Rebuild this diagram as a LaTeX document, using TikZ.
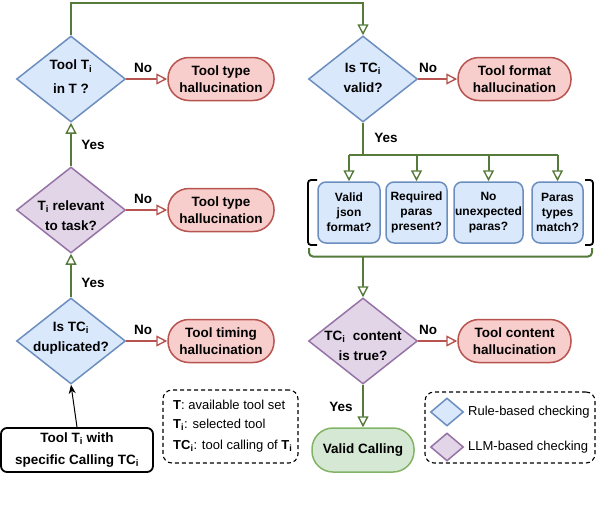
\documentclass[tikz,border=0pt]{standalone}
\usepackage{fontspec}
\setmainfont{Liberation Sans}
\usetikzlibrary{shapes.geometric,arrows.meta}
\definecolor{rulefill}{HTML}{DAE8FC}
\definecolor{rulestroke}{HTML}{6C8EBF}
\definecolor{llmfill}{HTML}{E1D5E7}
\definecolor{llmstroke}{HTML}{9673A6}
\definecolor{badfill}{HTML}{F8CECC}
\definecolor{badstroke}{HTML}{B85450}
\definecolor{okfill}{HTML}{D5E8D4}
\definecolor{okstroke}{HTML}{82B366}
\definecolor{gline}{HTML}{557A3A}
\tikzset{
  rulediam/.style={diamond, draw=rulestroke, fill=rulefill, line width=1.5pt, inner sep=0pt, minimum width=109pt, minimum height=86pt},
  llmdiam/.style={diamond, draw=llmstroke, fill=llmfill, line width=1.5pt, inner sep=0pt, minimum width=109pt, minimum height=86pt},
  legdiam/.style={diamond, line width=1.5pt, inner sep=0pt, minimum width=33pt, minimum height=28pt},
  dtext/.style={align=center, inner sep=0pt, font=\fontsize{13.5}{20}\selectfont\bfseries},
  badbox/.style={rectangle, rounded corners=21pt, draw=badstroke, fill=badfill, line width=1.5pt, minimum width=106pt, minimum height=43pt, align=center, inner sep=0pt, font=\fontsize{13.5}{17}\selectfont\bfseries},
  okbox/.style={rectangle, rounded corners=21pt, draw=okstroke, fill=okfill, line width=1.5pt, minimum width=102pt, minimum height=44pt, align=center, inner sep=0pt, font=\fontsize{13.5}{17}\selectfont\bfseries},
  subbox/.style={rectangle, rounded corners=8pt, draw=rulestroke, fill=rulefill, line width=1.5pt, minimum height=61pt, align=center, inner sep=0pt, font=\fontsize{12}{15}\selectfont\bfseries},
  startbox/.style={rectangle, rounded corners=6pt, draw=black, line width=1.8pt, minimum width=152pt, minimum height=44pt, align=center, inner sep=0pt, font=\fontsize{13.5}{22}\selectfont\bfseries},
  legbox/.style={rectangle, rounded corners=9pt, draw=black, dashed, line width=1.1pt, dash pattern=on 4pt off 3pt},
  lbl/.style={inner sep=0pt, font=\fontsize{13.5}{16}\selectfont\bfseries},
  legtext/.style={inner sep=0pt, anchor=west, font=\fontsize{13}{16}\selectfont},
  gline/.style={draw=gline, line width=2pt},
  rline/.style={draw=badstroke, line width=2pt},
  oarrow/.style={-{Triangle[open, length=11pt, width=11pt, line width=1.4pt, fill=white]}},
}
\newcommand{\sbi}{\textsubscript{i}}
\begin{document}
\begin{tikzpicture}[x=1pt, y=-1pt]
\useasboundingbox (0,0) rectangle (596,506);

% left column
\node[rulediam] (d1) at (71,79) {};
\node[dtext, font=\fontsize{13.5}{24}\selectfont\bfseries] (d1t) at (71,77) {Tool T\sbi\\in T ?};
\node[llmdiam] (d2) at (71,210) {};
\node[dtext] (d2t) at (71,216) {T\sbi{} relevant\\to task?};
\node[rulediam] (d3) at (71,341) {};
\node[dtext] (d3t) at (71,338) {Is TC\sbi\\duplicated?};

\node[badbox] (r1) at (221,79) {Tool type\\hallucination};
\node[badbox] (r2) at (221,210) {Tool type\\hallucination};
\node[badbox] (r3) at (221,341) {Tool timing\\hallucination};

\node[startbox] (s) at (77,450) {Tool T\sbi{} with\\specific Calling TC\sbi};

% right column
\node[rulediam] (d4) at (363,79) {};
\node[dtext] (d4t) at (363,78) {Is TC\sbi\\valid?};
\node[badbox, minimum width=113pt] (r4) at (514.5,79) {Tool format\\hallucination};

\node[subbox, minimum width=62pt] (b1) at (349,212.5) {Valid\\json\\format?};
\node[subbox, minimum width=61pt] (b2) at (416.5,212.5) {Required\\paras\\present?};
\node[subbox, minimum width=69pt] (b3) at (488.5,212.5) {No\\unexpected\\paras?};
\node[subbox, minimum width=51pt] (b4) at (557.5,212.5) {Paras\\types\\match?};

\node[llmdiam] (d5) at (363,341) {};
\node[dtext] (d5t) at (363,346) {TC\sbi{}\ \ content\\is true?};
\node[badbox, minimum width=113pt] (r5) at (514.5,341) {Tool content\\hallucination};

\node[okbox] (v) at (363,450) {Valid Calling};

% legends
\node[legbox, minimum width=135pt, minimum height=73pt] (leg1) at (230.5,426.5) {};
\node[legtext] (l1) at (173,405) {\textbf{T}: available tool set};
\node[legtext] (l2) at (173,425) {\textbf{T\sbi}: selected tool};
\node[legtext] (l3) at (173,446) {\textbf{TC\sbi}: tool calling of \textbf{T\sbi}};

\node[legbox, minimum width=170pt, minimum height=71pt] (leg2) at (510,427.5) {};
\node[legdiam, draw=rulestroke, fill=rulefill] (ld1) at (447,412) {};
\node[legdiam, draw=llmstroke, fill=llmfill] (ld2) at (447,447) {};
\node[legtext] (lt1) at (468,412) {Rule-based checking};
\node[legtext] (lt2) at (468,447) {LLM-based checking};

% brackets
\draw[black, line width=1.8pt, rounded corners=3pt] (317,180) -- (308,180) -- (308,245) -- (317,245);
\draw[black, line width=1.8pt, rounded corners=3pt] (585,180) -- (593,180) -- (593,245) -- (585,245);
\coordinate (brc) at (363,256.5);
\draw[gline, rounded corners=4pt] (309,248) -- (309,256.5) -- (592,256.5) -- (592,248);

% connectors
\coordinate (topy) at (0,3);
\draw[gline, oarrow] (d1.north) -- (d1.north |- topy) -| (d4.north);
\draw[gline, oarrow] (d2.north) -- (d1.south);
\draw[gline, oarrow] (d3.north) -- (d2.south);
\draw[black, line width=1pt, -{Stealth[length=9pt, width=7pt]}] (s.north) -- (d3.south);

\draw[rline, oarrow] (d1.east) -- (r1.west);
\draw[rline, oarrow] (d2.east) -- (r2.west);
\draw[rline, oarrow] (d3.east) -- (r3.west);
\draw[rline, oarrow] (d4.east) -- (r4.west);
\draw[rline, oarrow] (d5.east) -- (r5.west);

\coordinate (br) at (363,155);
\draw[gline] (d4.south) -- (br);
\draw[gline] (b1.north |- br) -- (b4.north |- br);
\draw[gline, oarrow] (b1.north |- br) -- (b1.north);
\draw[gline, oarrow] (b2.north |- br) -- (b2.north);
\draw[gline, oarrow] (b3.north |- br) -- (b3.north);
\draw[gline, oarrow] (b4.north |- br) -- (b4.north);

\draw[gline, oarrow] (brc) -- (d5.north);
\draw[gline, oarrow] (d5.south) -- (v.north);

% labels
\node[lbl] (n1) at (143,68) {No};
\node[lbl] (n2) at (143,199) {No};
\node[lbl] (n3) at (143,330) {No};
\node[lbl] (n4) at (428,68) {No};
\node[lbl] (n5) at (428,330) {No};
\node[lbl] (y1) at (93,145) {Yes};
\node[lbl] (y2) at (93,283) {Yes};
\node[lbl] (y3) at (386,138) {Yes};
\node[lbl] (y4) at (341,407) {Yes};
\end{tikzpicture}
\end{document}
